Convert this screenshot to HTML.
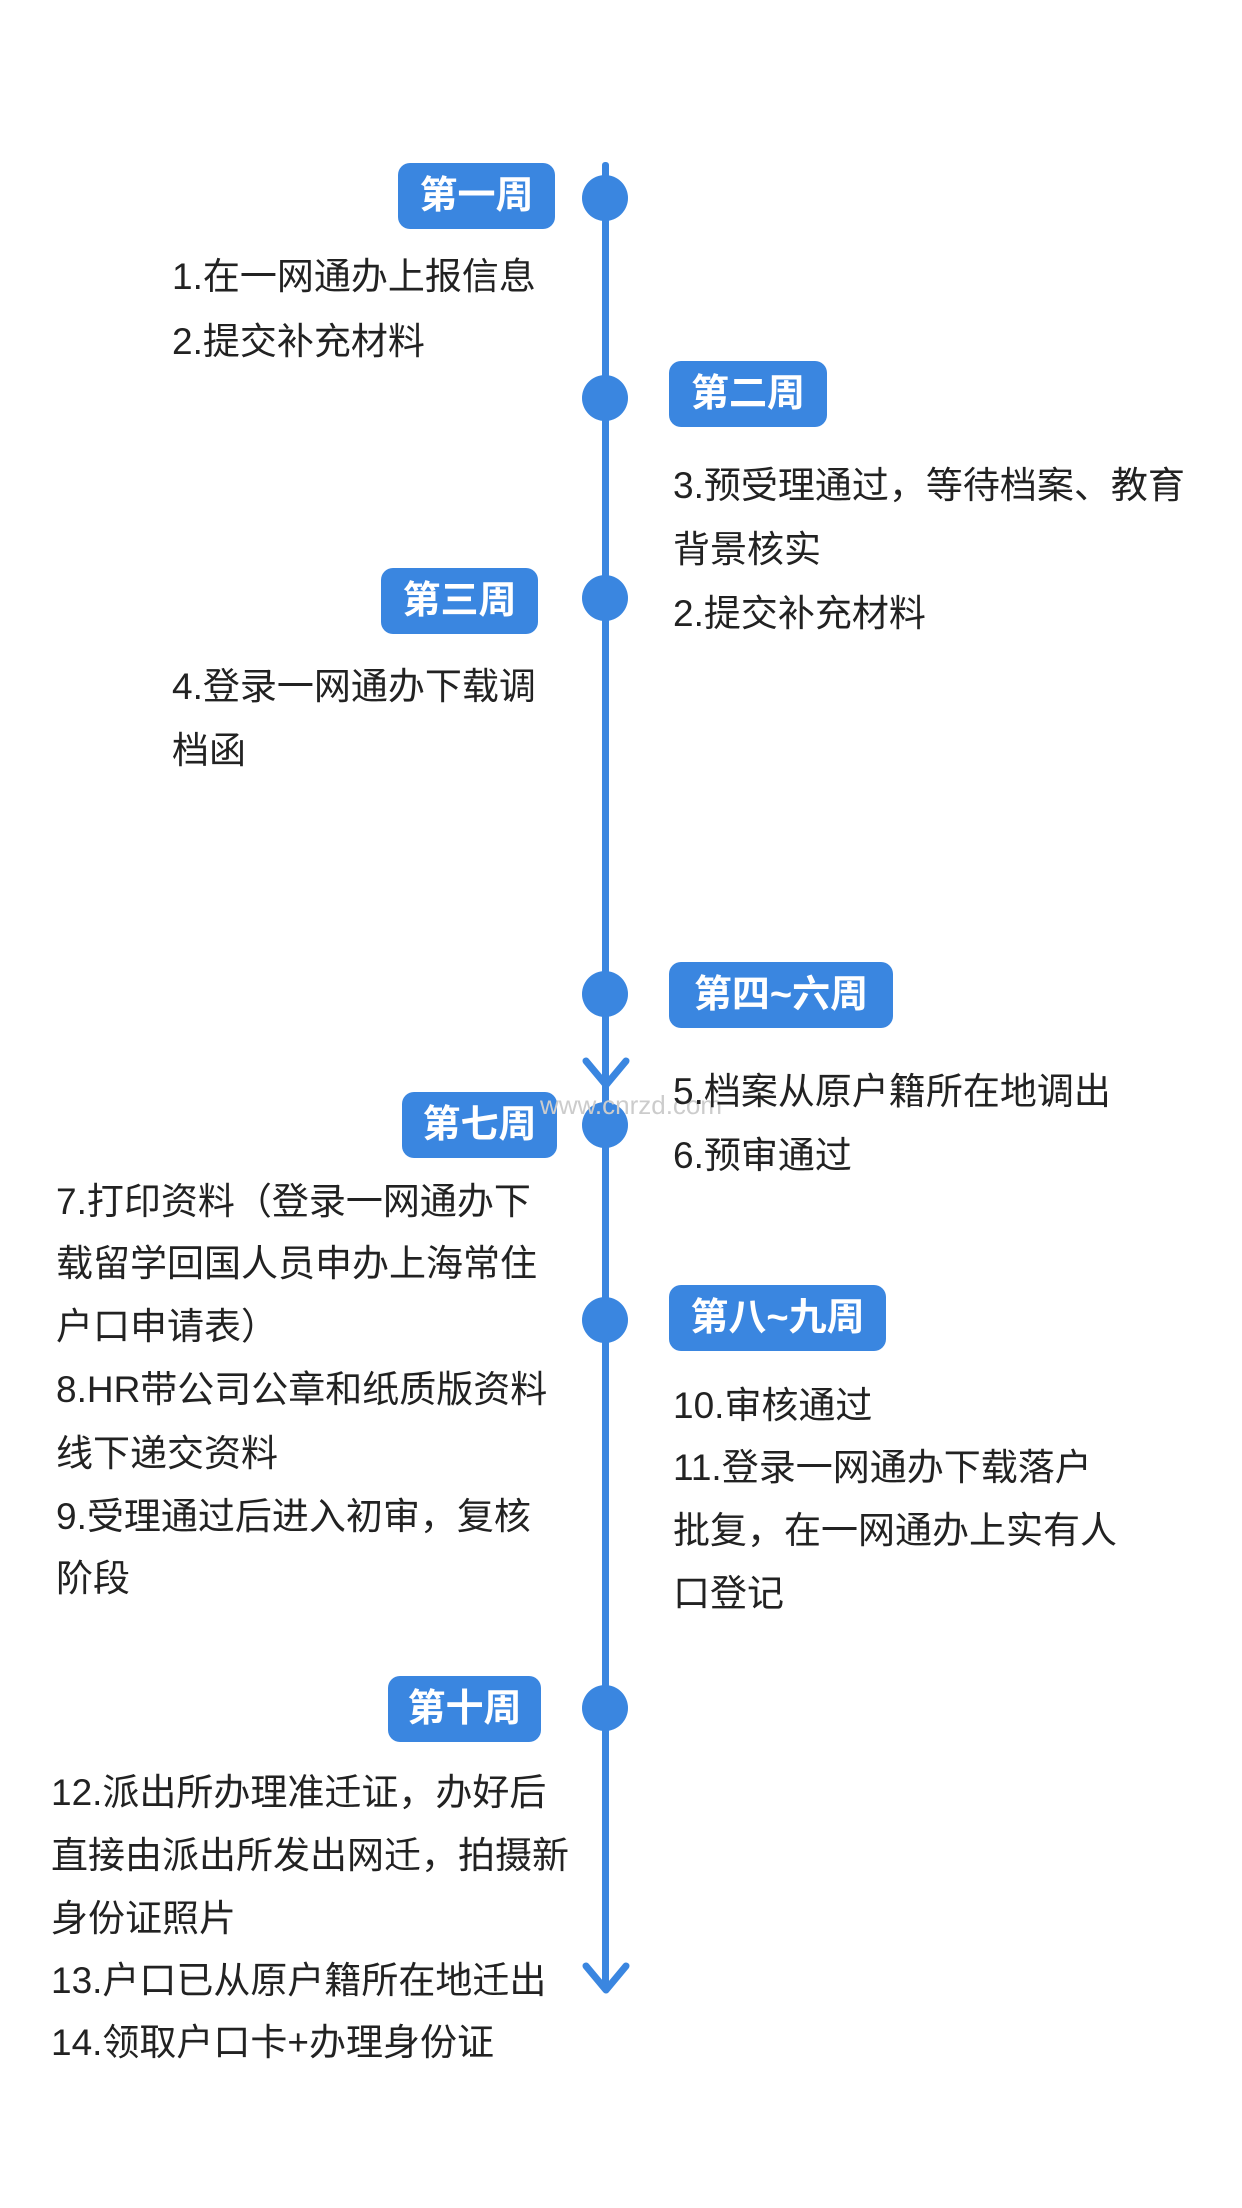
<!DOCTYPE html>
<html><head><meta charset="utf-8"><style>
html,body{margin:0;padding:0;background:#fff;}
body{width:1242px;height:2208px;position:relative;overflow:hidden;font-family:"Liberation Sans","Noto Sans CJK SC",sans-serif;}
.line{position:absolute;left:602px;top:162px;width:7px;height:1830px;background:#3a86e0;border-radius:3px;}
.dot{position:absolute;width:46px;height:46px;border-radius:50%;background:#3a86e0;left:582px;}
.pill{position:absolute;height:66px;background:#3a86e0;color:#fff;font-weight:bold;font-size:38px;line-height:66px;text-align:center;border-radius:12px;}
.t{position:absolute;font-size:37px;line-height:48px;color:#222;white-space:nowrap;}
</style></head><body>
<div class="line"></div>
<svg style="position:absolute;left:580px;top:1055px" width="52" height="40"><polyline points="6,6 26,30 46,6" fill="none" stroke="#3a86e0" stroke-width="7" stroke-linecap="round" stroke-linejoin="round"/></svg>
<svg style="position:absolute;left:580px;top:1960px" width="52" height="40"><polyline points="6,6 26,30 46,6" fill="none" stroke="#3a86e0" stroke-width="7" stroke-linecap="round" stroke-linejoin="round"/></svg>
<div class="dot" style="top:175px"></div>
<div class="dot" style="top:375px"></div>
<div class="dot" style="top:575px"></div>
<div class="dot" style="top:971px"></div>
<div class="dot" style="top:1102px"></div>
<div class="dot" style="top:1297px"></div>
<div class="dot" style="top:1685px"></div>

<div class="pill" style="left:398px;top:163px;width:157px">第一周</div>
<div class="pill" style="left:669px;top:361px;width:158px">第二周</div>
<div class="pill" style="left:381px;top:568px;width:157px">第三周</div>
<div class="pill" style="left:669px;top:962px;width:224px">第四~六周</div>
<div class="pill" style="left:402px;top:1092px;width:155px">第七周</div>
<div class="pill" style="left:669px;top:1285px;width:217px">第八~九周</div>
<div class="pill" style="left:388px;top:1676px;width:153px">第十周</div>

<div style="position:absolute;left:540px;top:1090px;font-size:26px;color:#ccc;">www.cnrzd.com</div>

<div class="t" style="left:172px;top:253px">1.在一网通办上报信息</div>
<div class="t" style="left:172px;top:318px">2.提交补充材料</div>
<div class="t" style="left:673px;top:462px">3.预受理通过，等待档案、教育</div>
<div class="t" style="left:673px;top:526px">背景核实</div>
<div class="t" style="left:673px;top:590px">2.提交补充材料</div>
<div class="t" style="left:172px;top:663px">4.登录一网通办下载调</div>
<div class="t" style="left:172px;top:727px">档函</div>
<div class="t" style="left:673px;top:1068px">5.档案从原户籍所在地调出</div>
<div class="t" style="left:673px;top:1132px">6.预审通过</div>
<div class="t" style="left:56px;top:1178px">7.打印资料（登录一网通办下</div>
<div class="t" style="left:56px;top:1240px">载留学回国人员申办上海常住</div>
<div class="t" style="left:56px;top:1303px">户口申请表）</div>
<div class="t" style="left:56px;top:1366px">8.HR带公司公章和纸质版资料</div>
<div class="t" style="left:56px;top:1430px">线下递交资料</div>
<div class="t" style="left:56px;top:1493px">9.受理通过后进入初审，复核</div>
<div class="t" style="left:56px;top:1555px">阶段</div>
<div class="t" style="left:673px;top:1382px">10.审核通过</div>
<div class="t" style="left:673px;top:1444px">11.登录一网通办下载落户</div>
<div class="t" style="left:673px;top:1507px">批复，在一网通办上实有人</div>
<div class="t" style="left:673px;top:1570px">口登记</div>
<div class="t" style="left:51px;top:1769px">12.派出所办理准迁证，办好后</div>
<div class="t" style="left:51px;top:1832px">直接由派出所发出网迁，拍摄新</div>
<div class="t" style="left:51px;top:1895px">身份证照片</div>
<div class="t" style="left:51px;top:1957px">13.户口已从原户籍所在地迁出</div>
<div class="t" style="left:51px;top:2019px">14.领取户口卡+办理身份证</div>
</body></html>
